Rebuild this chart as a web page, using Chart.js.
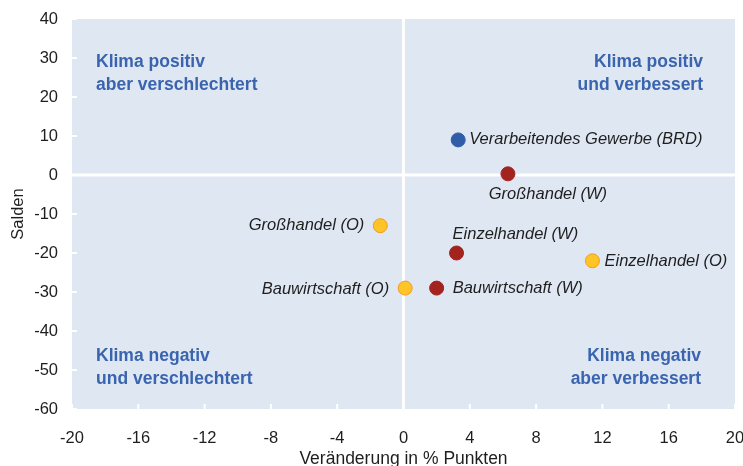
<!DOCTYPE html>
<html>
<head>
<meta charset="utf-8">
<script src="https://cdn.jsdelivr.net/npm/chart.js@4.4.0/dist/chart.umd.min.js"></script>
<style>
  html, body { margin: 0; padding: 0; background: #fff; }
  #wrap { width: 743px; height: 466px; }
</style>
</head>
<body>
<div id="wrap"><canvas id="chart" width="743" height="466"></canvas></div>
<script>
// ===== DATA =====
const pointNames = [
    "Verarbeitendes Gewerbe (BRD)",
    "Großhandel (W)",
    "Großhandel (O)",
    "Einzelhandel (W)",
    "Einzelhandel (O)",
    "Bauwirtschaft (O)",
    "Bauwirtschaft (W)"
];
const changeValues = [3.3, 6.3, -1.4, 3.2, 11.4, 0.1, 2.0];
const saldoValues = [9, 0.3, -13, -20, -22, -29, -29];
const groups = ["BRD", "W", "O", "W", "O", "O", "W"];
const xTicks = [-20, -16, -12, -8, -4, 0, 4, 8, 12, 16, 20];
const yTicks = [-60, -50, -40, -30, -20, -10, 0, 10, 20, 30, 40];
const quadrantTexts = [
    ["Klima positiv", "aber verschlechtert"],
    ["Klima positiv", "und verbessert"],
    ["Klima negativ", "und verschlechtert"],
    ["Klima negativ", "aber verbessert"]
];

// ===== STYLES =====
const groupColors = { BRD: "#2f5da8", W: "#a3231f", O: "#ffc425" };
const groupBorders = { BRD: "#2f5da8", W: "#a3231f", O: "#f39c1f" };
// label placement per point: [dx, dy, align]
const labelPos = [
    [11, 0, "left"],
    [40, 21, "center"],
    [-16, 0, "right"],
    [-4, -19, "left"],
    [12, 1, "left"],
    [-16, 1, "right"],
    [16, 0, "left"]
];
const FONT = "'Liberation Sans', Arial, sans-serif";

const points = changeValues.map((x, i) => ({ x: x, y: saldoValues[i] }));

const quadrantPlugin = {
    id: "quadrants",
    beforeDraw(chart) {
        const { ctx, chartArea: a, scales } = chart;
        ctx.save();
        ctx.fillStyle = "#dfe7f3";
        ctx.fillRect(a.left, a.top, a.right - a.left, a.bottom - a.top);
        // zero lines
        ctx.strokeStyle = "#ffffff";
        ctx.lineWidth = 3;
        const x0 = scales.x.getPixelForValue(0);
        const y0 = scales.y.getPixelForValue(0);
        ctx.beginPath();
        ctx.moveTo(x0, a.top); ctx.lineTo(x0, a.bottom);
        ctx.moveTo(a.left, y0); ctx.lineTo(a.right, y0);
        ctx.stroke();
        // small inside tick marks
        ctx.lineWidth = 2;
        ctx.beginPath();
        yTicks.forEach(v => {
            const y = scales.y.getPixelForValue(v);
            ctx.moveTo(a.left, y); ctx.lineTo(a.left + 5, y);
        });
        xTicks.forEach(v => {
            const x = scales.x.getPixelForValue(v);
            ctx.moveTo(x, a.bottom); ctx.lineTo(x, a.bottom - 5);
        });
        ctx.stroke();
        ctx.restore();
    },
    afterDatasetsDraw(chart) {
        const { ctx, chartArea: a } = chart;
        ctx.save();
        // quadrant captions
        ctx.fillStyle = "#3a65ae";
        ctx.font = "bold 17.5px " + FONT;
        ctx.textBaseline = "middle";
        const lh = 23;
        const spots = [
            [a.left + 24, a.top + 43, "left"],
            [a.right - 32, a.top + 43, "right"],
            [a.left + 24, a.bottom - 53, "left"],
            [a.right - 34, a.bottom - 53, "right"]
        ];
        quadrantTexts.forEach((lines, i) => {
            ctx.textAlign = spots[i][2];
            lines.forEach((t, j) => ctx.fillText(t, spots[i][0], spots[i][1] + j * lh));
        });
        // point labels
        const meta = chart.getDatasetMeta(0);
        ctx.font = "italic 16.5px " + FONT;
        ctx.fillStyle = "#1e1e1e";
        meta.data.forEach((el, i) => {
            const p = labelPos[i];
            ctx.textAlign = p[2];
            ctx.fillText(pointNames[i], el.x + p[0], el.y + p[1]);
        });
        ctx.restore();
    }
};

new Chart(document.getElementById("chart"), {
    type: "scatter",
    data: {
        datasets: [{
            data: points,
            pointRadius: 7,
            pointHoverRadius: 7,
            pointBorderWidth: 1,
            backgroundColor: groups.map(g => groupColors[g]),
            borderColor: groups.map(g => groupBorders[g])
        }]
    },
    options: {
        responsive: false,
        animation: false,
        events: [],
        layout: { padding: { top: 19, right: 3, left: 0, bottom: 0 } },
        plugins: { legend: { display: false }, tooltip: { enabled: false } },
        scales: {
            x: {
                type: "linear",
                min: -20,
                max: 20,
                afterBuildTicks: s => { s.ticks = xTicks.map(v => ({ value: v })); },
                grid: { display: false, drawTicks: false },
                border: { display: false },
                ticks: { color: "#1e1e1e", font: { family: FONT, size: 16.5 }, padding: 20, maxRotation: 0 },
                title: { display: true, text: "Veränderung in % Punkten", color: "#1e1e1e", font: { family: FONT, size: 17.5 }, padding: { top: 0, bottom: -4 } },
                afterFit: s => { s.height = 57; s.paddingLeft = 0; s.paddingRight = 0; }
            },
            y: {
                type: "linear",
                min: -60,
                max: 40,
                afterBuildTicks: s => { s.ticks = yTicks.map(v => ({ value: v })); },
                grid: { display: false, drawTicks: false },
                border: { display: false },
                ticks: { color: "#1e1e1e", font: { family: FONT, size: 16.5 }, padding: 14 },
                title: { display: true, text: "Salden", color: "#1e1e1e", font: { family: FONT, size: 16.5 }, padding: { top: 9, bottom: 0 } },
                afterFit: s => { s.width = 72; s.paddingTop = 0; s.paddingBottom = 0; }
            }
        }
    },
    plugins: [quadrantPlugin]
});
</script>
</body>
</html>
